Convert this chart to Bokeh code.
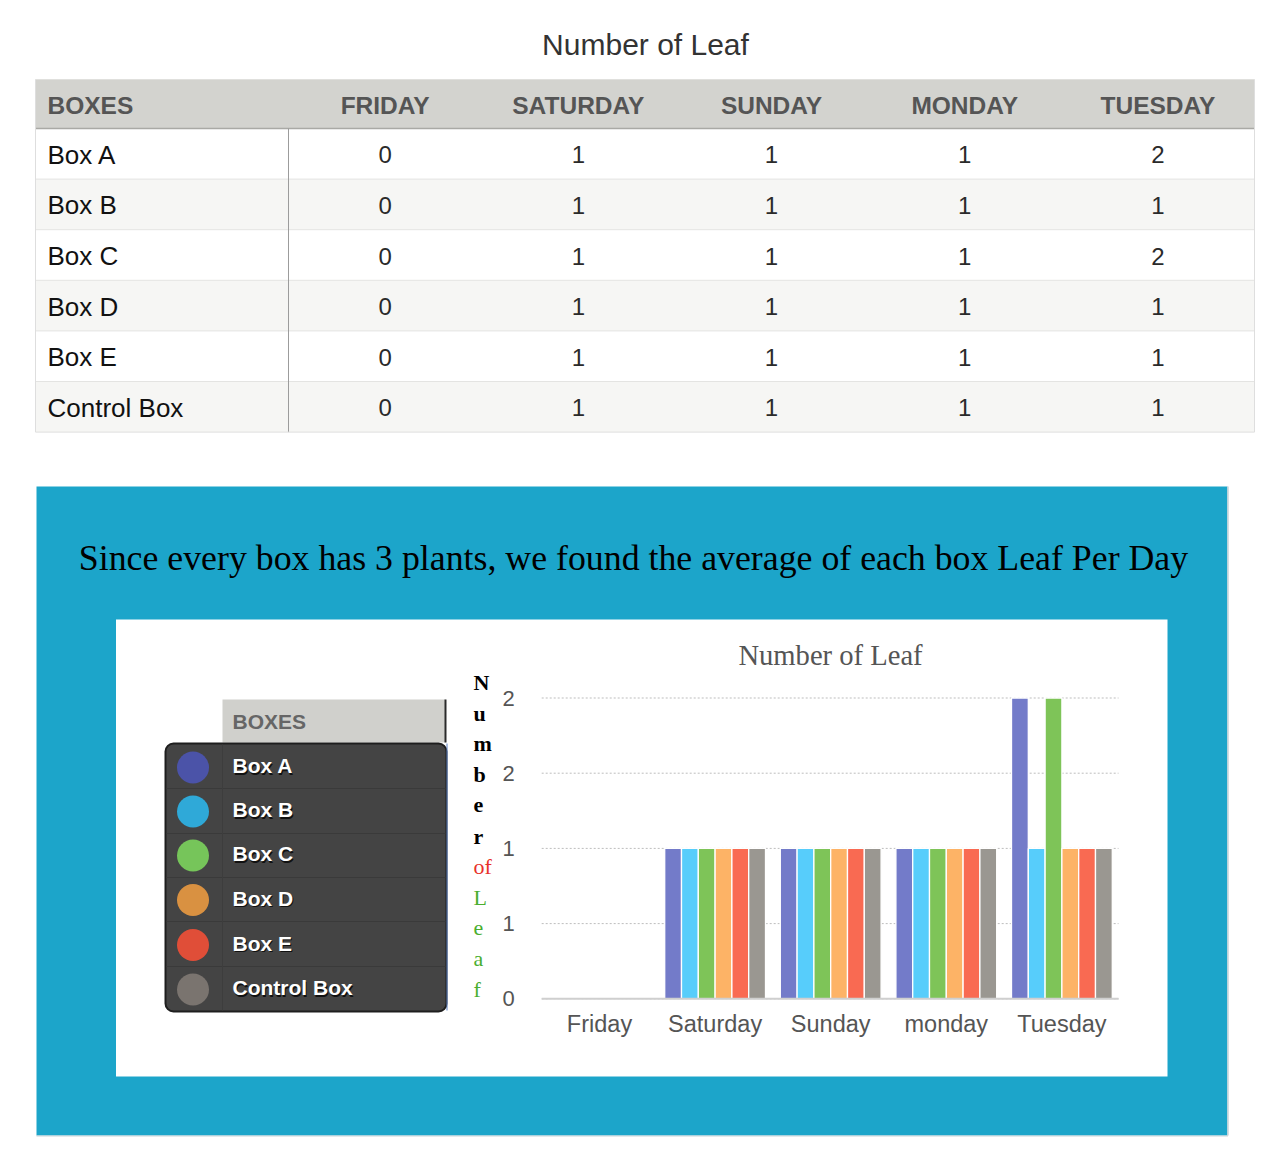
from bokeh.plotting import figure
from bokeh.models import Range1d, ColumnDataSource
from bokeh.core.properties import value
from bokeh.transform import dodge
from bokeh.embed import file_html
from bokeh.resources import INLINE

# ---------------- data ----------------
boxes = ["Box A", "Box B", "Box C", "Box D", "Box E", "Control Box"]
table_days = ["FRIDAY", "SATURDAY", "SUNDAY", "MONDAY", "TUESDAY"]
chart_days = ["Friday", "Saturday", "Sunday", "monday", "Tuesday"]
box_a = [0, 1, 1, 1, 2]
box_b = [0, 1, 1, 1, 1]
box_c = [0, 1, 1, 1, 2]
box_d = [0, 1, 1, 1, 1]
box_e = [0, 1, 1, 1, 1]
control_box = [0, 1, 1, 1, 1]
series = [box_a, box_b, box_c, box_d, box_e, control_box]
y_ticks = [0, 0.5, 1, 1.5, 2]
y_tick_labels = ["0", "1", "1", "2", "2"]
axis_letters = ["N", "u", "m", "b", "e", "r", "of", "L", "e", "a", "f"]

page_title = "Number of Leaf"
panel_title = "Since every box has 3 plants, we found the average of each box Leaf Per Day"
chart_title = "Number of Leaf"
legend_title = "BOXES"

# ---------------- styles ----------------
SANS = value("Liberation Sans")
SERIF = value("Liberation Serif")
bar_colors = ["#737bc9", "#57cdfb", "#7ec458", "#fdb366", "#f96a52", "#9a9791"]
legend_colors = ["#4b53a8", "#2fa9d8", "#76c55a", "#d99141", "#e04e38", "#7a746f"]
letter_colors = ["#000000"] * 6 + ["#e8312b"] + ["#4aae2f"] * 4
letter_styles = ["bold"] * 6 + ["normal"] * 5

W, H = 1270, 1152
p = figure(width=W, height=H, x_range=Range1d(0, W), y_range=Range1d(H, 0),
           min_border=0, toolbar_location=None, output_backend="svg",
           x_axis_location=None, y_axis_location=None)
p.grid.visible = False
p.outline_line_color = None
p.background_fill_color = "white"
p.border_fill_color = "white"

# ---------------- table ----------------
T_L, T_R, T_TOP, HDR_H, ROW_H = 35, 1254, 79, 49, 50.6
C0_R, COL_W = 288, 193.2
hdr_bottom = T_TOP + HDR_H
row_tops = [hdr_bottom + i * ROW_H for i in range(len(boxes))]
row_mid = [t + ROW_H / 2 for t in row_tops]
t_bottom = hdr_bottom + ROW_H * len(boxes)
col_mid = [C0_R + COL_W * (j + 0.5) for j in range(len(table_days))]

p.text(x=[645], y=[44], text=[page_title], text_font=SANS, text_font_size="30px",
       text_color="#333333", text_align="center", text_baseline="middle")

p.quad(left=T_L, right=T_R, top=T_TOP, bottom=hdr_bottom, fill_color="#d3d3cf", line_color=None)
p.quad(left=[T_L] * len(boxes), right=[T_R] * len(boxes), top=row_tops,
       bottom=[t + ROW_H for t in row_tops],
       fill_color=["#ffffff" if i % 2 == 0 else "#f6f6f4" for i in range(len(boxes))],
       line_color=None)
p.segment(x0=[T_L] * (len(boxes) - 1), x1=[T_R] * (len(boxes) - 1), y0=row_tops[1:], y1=row_tops[1:],
          line_color="#e4e4e2", line_width=1)
p.segment(x0=[T_L], x1=[T_R], y0=[hdr_bottom], y1=[hdr_bottom], line_color="#a9a9a5", line_width=1.5)
p.segment(x0=[T_L], x1=[T_R], y0=[T_TOP], y1=[T_TOP], line_color="#e0e0dd", line_width=1)
p.segment(x0=[C0_R], x1=[C0_R], y0=[hdr_bottom], y1=[t_bottom], line_color="#9c9c9c", line_width=1)
p.segment(x0=[T_L, T_R, T_L], x1=[T_L, T_R, T_R], y0=[T_TOP, T_TOP, t_bottom], y1=[t_bottom, t_bottom, t_bottom],
          line_color="#dedede", line_width=1)

p.text(x=[47], y=[T_TOP + HDR_H / 2 + 1], text=["BOXES"], text_font=SANS, text_font_style="bold",
       text_font_size="24.5px", text_color="#555555", text_align="left", text_baseline="middle")
p.text(x=col_mid, y=[T_TOP + HDR_H / 2 + 1] * len(table_days), text=table_days, text_font=SANS,
       text_font_style="bold", text_font_size="24.5px", text_color="#555555",
       text_align="center", text_baseline="middle")
p.text(x=[47] * len(boxes), y=[m + 1 for m in row_mid], text=boxes, text_font=SANS, text_font_size="26px",
       text_color="#111111", text_align="left", text_baseline="middle")
for j in range(len(table_days)):
    p.text(x=[col_mid[j]] * len(boxes), y=[m + 1 for m in row_mid], text=[str(s[j]) for s in series],
           text_font=SANS, text_font_size="24px", text_color="#2a2a2a",
           text_align="center", text_baseline="middle")

# ---------------- blue panel ----------------
p.quad(left=36, right=1227, top=486, bottom=1135, fill_color="#1ca5ca", line_color=None)
p.segment(x0=[1227.5], x1=[1227.5], y0=[486], y1=[1135], line_color="#c9d3d8", line_width=1.5)
p.segment(x0=[36], x1=[1227.5], y0=[1135.5], y1=[1135.5], line_color="#c9d3d8", line_width=1)
p.text(x=[633], y=[557], text=[panel_title], text_font=SERIF, text_font_size="35.8px",
       text_color="#000000", text_align="center", text_baseline="middle")
p.quad(left=115.5, right=1167, top=619, bottom=1076, fill_color="white", line_color=None)

# ---------------- legend ----------------
leg_rows = [767, 811, 855, 899.5, 944.5, 989]
leg_text_y = [r - 2 for r in leg_rows]
p.quad(left=222, right=445, top=699, bottom=742, fill_color="#d0d0cc", line_color=None)
p.segment(x0=[445], x1=[445], y0=[699], y1=[742], line_color="#2a2a2a", line_width=2)
p.text(x=[232], y=[721], text=[legend_title], text_font=SANS, text_font_style="bold",
       text_font_size="21px", text_color="#666666", text_align="left", text_baseline="middle")
p.quad(left=165, right=446, top=743, bottom=1011, fill_color="#444444", line_color="#1e1e1e",
       line_width=2, border_radius=8)
sep = [788, 833, 877, 921, 966]
p.segment(x0=[166] * len(sep), x1=[445] * len(sep), y0=sep, y1=sep, line_color="#3a3a3a", line_width=1)
p.segment(x0=[222], x1=[222], y0=[744], y1=[1010], line_color="#3d3d3d", line_width=1)
p.segment(x0=[446.5], x1=[446.5], y0=[743], y1=[1010], line_color="#5a7fbf", line_width=1)
p.scatter(x=[192.5] * len(boxes), y=leg_rows, size=32, marker="circle", fill_color=legend_colors,
          line_color=None)
p.text(x=[233] * len(boxes), y=[r + 1.5 for r in leg_text_y], text=boxes, text_font=SANS, text_font_style="bold",
       text_font_size="21px", text_color="#111111", text_align="left", text_baseline="middle")
p.text(x=[232] * len(boxes), y=leg_text_y, text=boxes, text_font=SANS, text_font_style="bold",
       text_font_size="21px", text_color="#ffffff", text_align="left", text_baseline="middle")

# ---------------- bar chart scales ----------------
DAY_PX = 115.6      # pixels per day
DAY0_PX = 599.0     # pixel centre of first day
VAL_PX = 150.4      # pixels per unit value
VAL0_PX = 998.3     # pixel of value 0
p.extra_x_ranges = {"bx": Range1d((0 - DAY0_PX) / DAY_PX, (W - DAY0_PX) / DAY_PX)}
p.extra_y_ranges = {"val": Range1d(-(H - VAL0_PX) / VAL_PX, (VAL0_PX - 0) / VAL_PX)}

p.text(x=[830], y=[655], text=[chart_title], text_font=SERIF, text_font_size="28.6px",
       text_color="#555555", text_align="center", text_baseline="middle")

# axis title letters
p.text(x=[473] * len(axis_letters), y=[682 + 30.7 * i for i in range(len(axis_letters))],
       text=axis_letters, text_font=SERIF, text_font_size="22px", text_color=letter_colors,
       text_font_style=letter_styles, text_align="left", text_baseline="alphabetic")

# grid lines
p.segment(x0=[-0.5] * len(y_ticks), x1=[4.49] * len(y_ticks), y0=y_ticks, y1=y_ticks,
          line_color="#bdbdbd", line_width=1, line_dash="2 2",
          x_range_name="bx", y_range_name="val")
# y tick labels
p.text(x=[508] * len(y_ticks), y=y_ticks, text=y_tick_labels, text_font=SANS, text_font_size="22px",
       text_color="#555555", text_align="center", text_baseline="middle", y_range_name="val")
# x tick labels
p.text(x=list(range(len(chart_days))), y=[1023] * len(chart_days), text=chart_days, text_font=SANS,
       text_font_size="23.5px", text_color="#555555", text_align="center", text_baseline="middle",
       x_range_name="bx")

# bars
SLOT = 0.1453
src = ColumnDataSource(dict(day=list(range(len(chart_days))),
                            **{f"s{k}": s for k, s in enumerate(series)}))
for k in range(len(series)):
    p.vbar(x=dodge("day", (k - 2.5) * SLOT, range=p.extra_x_ranges["bx"]), top=f"s{k}", bottom=0,
           width=SLOT, source=src, fill_color=bar_colors[k], line_color="white", line_width=1.3,
           x_range_name="bx", y_range_name="val")

# baseline
p.segment(x0=[-0.5], x1=[4.49], y0=[0], y1=[0], line_color="#cfcfcf", line_width=2,
          x_range_name="bx", y_range_name="val")

open("out.html", "w").write(file_html(p, INLINE))
